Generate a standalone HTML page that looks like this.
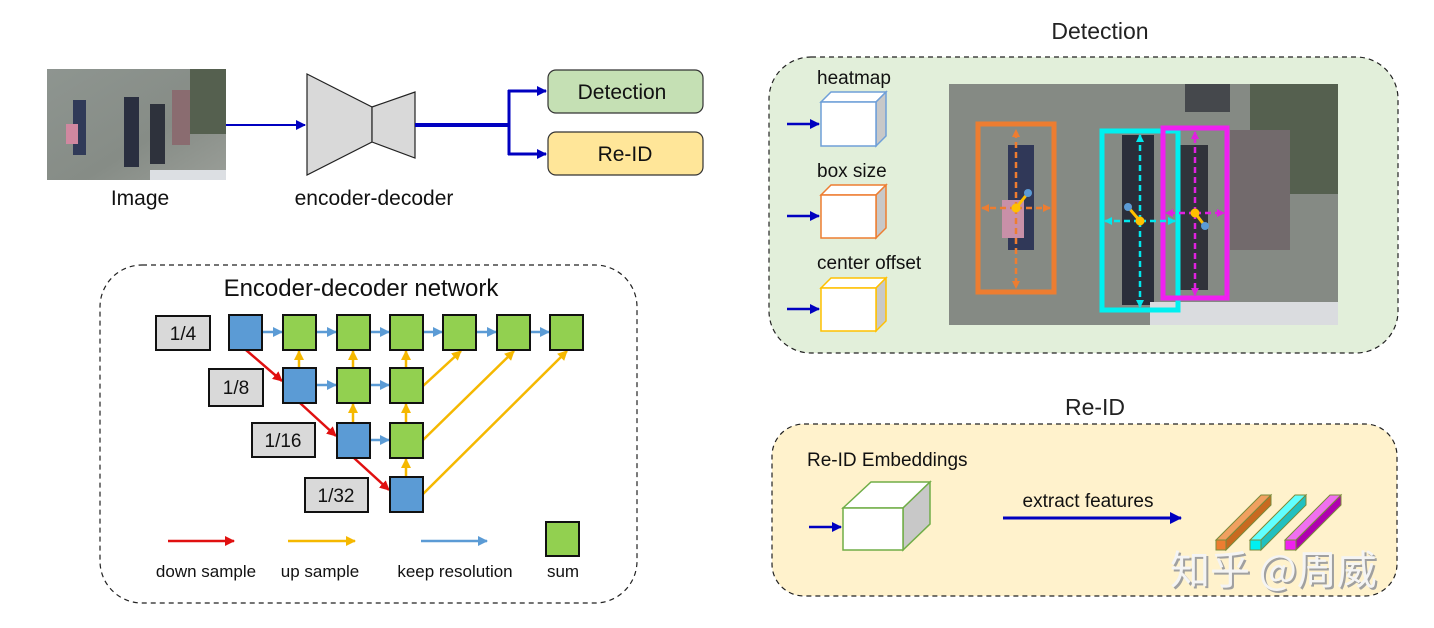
<!DOCTYPE html>
<html><head><meta charset="utf-8"><style>
html,body{margin:0;padding:0;background:#fff;}
svg{display:block;font-family:"Liberation Sans","Noto Sans CJK SC",sans-serif;}
</style></head><body>
<svg width="1434" height="628" viewBox="0 0 1434 628" xmlns="http://www.w3.org/2000/svg">
<defs>
<marker id="ab" markerWidth="10" markerHeight="10" refX="9" refY="5" orient="auto" markerUnits="userSpaceOnUse"><path d="M0,0 L10,5 L0,10 z" fill="#0000c0"/></marker>
<marker id="abig" markerWidth="12" markerHeight="12" refX="11" refY="6" orient="auto" markerUnits="userSpaceOnUse"><path d="M0,0 L12,6 L0,12 z" fill="#0000c0"/></marker>
<marker id="ar" markerWidth="10" markerHeight="10" refX="9" refY="5" orient="auto" markerUnits="userSpaceOnUse"><path d="M0,0 L10,5 L0,10 z" fill="#e01010"/></marker>
<marker id="ay" markerWidth="10" markerHeight="10" refX="9" refY="5" orient="auto" markerUnits="userSpaceOnUse"><path d="M0,0 L10,5 L0,10 z" fill="#f5b800"/></marker>
<marker id="al" markerWidth="10" markerHeight="10" refX="9" refY="5" orient="auto" markerUnits="userSpaceOnUse"><path d="M0,0 L10,5 L0,10 z" fill="#5b9bd5"/></marker>
<marker id="ao" markerWidth="8" markerHeight="8" refX="7" refY="4" orient="auto" markerUnits="userSpaceOnUse"><path d="M0,0 L8,4 L0,8 z" fill="#ed7d31"/></marker>
<marker id="ac" markerWidth="8" markerHeight="8" refX="7" refY="4" orient="auto" markerUnits="userSpaceOnUse"><path d="M0,0 L8,4 L0,8 z" fill="#00e8ee"/></marker>
<marker id="am" markerWidth="8" markerHeight="8" refX="7" refY="4" orient="auto" markerUnits="userSpaceOnUse"><path d="M0,0 L8,4 L0,8 z" fill="#e020e0"/></marker>
<linearGradient id="ph" x1="0" y1="0" x2="1" y2="1"><stop offset="0" stop-color="#8e9590"/><stop offset="0.6" stop-color="#868c86"/><stop offset="1" stop-color="#9a9e98"/></linearGradient>
</defs>

<!-- top photo -->
<rect x="47" y="69" width="179" height="111" fill="url(#ph)"/>
<rect x="190" y="69" width="36" height="65" fill="#55604f"/>
<rect x="172" y="90" width="18" height="55" fill="#8a6c70"/>
<rect x="73" y="100" width="13" height="55" fill="#303a58"/>
<rect x="124" y="97" width="15" height="70" fill="#2a2f40"/>
<rect x="150" y="104" width="15" height="60" fill="#2e323c"/>
<rect x="66" y="124" width="12" height="20" fill="#d088a0"/>
<rect x="150" y="170" width="76" height="10" fill="#dcdfe3"/>
<text x="140" y="205" font-size="21" text-anchor="middle" fill="#111">Image</text>

<line x1="226" y1="125" x2="305" y2="125" stroke="#0000c0" stroke-width="2" marker-end="url(#ab)"/>
<polygon points="307,74 372,107 372,142 307,175" fill="#d9d9d9" stroke="#222" stroke-width="1.2"/>
<polygon points="372,107 415,92 415,158 372,142" fill="#d9d9d9" stroke="#222" stroke-width="1.2"/>
<text x="374" y="205" font-size="21" text-anchor="middle" fill="#111">encoder-decoder</text>
<line x1="415" y1="125" x2="509" y2="125" stroke="#0000c0" stroke-width="4"/>
<polyline points="509,90 509,155" stroke="#0000c0" stroke-width="3" fill="none"/>
<line x1="508" y1="91" x2="546" y2="91" stroke="#0000c0" stroke-width="3" marker-end="url(#ab)"/>
<line x1="508" y1="154" x2="546" y2="154" stroke="#0000c0" stroke-width="3" marker-end="url(#ab)"/>
<rect x="548" y="70" width="155" height="43" rx="8" fill="#c5e0b4" stroke="#333" stroke-width="1.2"/>
<text x="622" y="99" font-size="21" text-anchor="middle" fill="#111">Detection</text>
<rect x="548" y="132" width="155" height="43" rx="8" fill="#ffe699" stroke="#333" stroke-width="1.2"/>
<text x="625" y="161" font-size="21" text-anchor="middle" fill="#111">Re-ID</text>

<!-- encoder-decoder network -->
<rect x="100" y="265" width="537" height="338" rx="42" fill="#fff" stroke="#222" stroke-width="1.2" stroke-dasharray="5,4"/>
<text x="361" y="296" font-size="24" text-anchor="middle" fill="#111">Encoder-decoder network</text>
<g font-size="19" text-anchor="middle" fill="#111">
<rect x="156" y="316" width="54" height="34" fill="#d9d9d9" stroke="#111" stroke-width="2"/><text x="183" y="340">1/4</text>
<rect x="209" y="369" width="54" height="37" fill="#d9d9d9" stroke="#111" stroke-width="2"/><text x="236" y="394">1/8</text>
<rect x="252" y="423" width="63" height="34" fill="#d9d9d9" stroke="#111" stroke-width="2"/><text x="283" y="447">1/16</text>
<rect x="305" y="478" width="63" height="34" fill="#d9d9d9" stroke="#111" stroke-width="2"/><text x="336" y="502">1/32</text>
</g>
<g stroke-width="2.5" fill="none">
<g stroke="#5b9bd5" marker-end="url(#al)">
<line x1="262" y1="332" x2="282" y2="332"/><line x1="316" y1="332" x2="336" y2="332"/><line x1="370" y1="332" x2="389" y2="332"/><line x1="423" y1="332" x2="442" y2="332"/><line x1="476" y1="332" x2="496" y2="332"/><line x1="530" y1="332" x2="549" y2="332"/>
<line x1="316" y1="385" x2="336" y2="385"/><line x1="370" y1="385" x2="389" y2="385"/>
<line x1="370" y1="440" x2="389" y2="440"/>
</g>
<g stroke="#f5b800" marker-end="url(#ay)">
<line x1="299" y1="368" x2="299" y2="351"/><line x1="353" y1="368" x2="353" y2="351"/><line x1="406" y1="368" x2="406" y2="351"/>
<line x1="353" y1="423" x2="353" y2="404"/><line x1="406" y1="423" x2="406" y2="404"/>
<line x1="406" y1="477" x2="406" y2="459"/>
<line x1="423" y1="386" x2="461" y2="351"/>
<line x1="423" y1="440" x2="514" y2="351"/>
<line x1="423" y1="494" x2="567" y2="351"/>
</g>
<g stroke="#e01010" marker-end="url(#ar)">
<line x1="246" y1="350" x2="282" y2="381"/><line x1="300" y1="403" x2="336" y2="436"/><line x1="354" y1="458" x2="389" y2="490"/>
</g>
</g>
<g stroke="#111" stroke-width="2">
<rect x="229" y="315" width="33" height="35" fill="#5b9bd5"/>
<rect x="283" y="315" width="33" height="35" fill="#92d050"/><rect x="337" y="315" width="33" height="35" fill="#92d050"/><rect x="390" y="315" width="33" height="35" fill="#92d050"/><rect x="443" y="315" width="33" height="35" fill="#92d050"/><rect x="497" y="315" width="33" height="35" fill="#92d050"/><rect x="550" y="315" width="33" height="35" fill="#92d050"/>
<rect x="283" y="368" width="33" height="35" fill="#5b9bd5"/><rect x="337" y="368" width="33" height="35" fill="#92d050"/><rect x="390" y="368" width="33" height="35" fill="#92d050"/>
<rect x="337" y="423" width="33" height="35" fill="#5b9bd5"/><rect x="390" y="423" width="33" height="35" fill="#92d050"/>
<rect x="390" y="477" width="33" height="35" fill="#5b9bd5"/>
<rect x="546" y="522" width="33" height="34" fill="#92d050"/>
</g>
<line x1="168" y1="541" x2="234" y2="541" stroke="#e01010" stroke-width="2.5" marker-end="url(#ar)"/>
<line x1="288" y1="541" x2="355" y2="541" stroke="#f5b800" stroke-width="2.5" marker-end="url(#ay)"/>
<line x1="421" y1="541" x2="487" y2="541" stroke="#5b9bd5" stroke-width="2.5" marker-end="url(#al)"/>
<g font-size="17" text-anchor="middle" fill="#111">
<text x="206" y="577">down sample</text><text x="320" y="577">up sample</text><text x="455" y="577">keep resolution</text><text x="563" y="577">sum</text>
</g>

<!-- Detection panel -->
<text x="1100" y="39" font-size="23" text-anchor="middle" fill="#222">Detection</text>
<rect x="769" y="57" width="629" height="296" rx="42" fill="#e2efda" stroke="#222" stroke-width="1.2" stroke-dasharray="5,4"/>
<g font-size="19" fill="#111">
<text x="817" y="84">heatmap</text><text x="817" y="177">box size</text><text x="817" y="269">center offset</text>
</g>
<g stroke-width="1.5">
<g stroke="#6f9fd8"><polygon points="821,102 831,92 886,92 876,102" fill="#fff"/><polygon points="876,102 886,92 886,136 876,146" fill="#c8c8c8"/><rect x="821" y="102" width="55" height="44" fill="#fff"/></g>
<g stroke="#ed7d31"><polygon points="821,195 831,185 886,185 876,195" fill="#fff"/><polygon points="876,195 886,185 886,228 876,238" fill="#c8c8c8"/><rect x="821" y="195" width="55" height="43" fill="#fff"/></g>
<g stroke="#ffc000"><polygon points="821,288 831,278 886,278 876,288" fill="#fff"/><polygon points="876,288 886,278 886,321 876,331" fill="#c8c8c8"/><rect x="821" y="288" width="55" height="43" fill="#fff"/></g>
</g>
<g stroke="#0000c0" stroke-width="2.5">
<line x1="787" y1="124" x2="819" y2="124" marker-end="url(#ab)"/><line x1="787" y1="216" x2="819" y2="216" marker-end="url(#ab)"/><line x1="787" y1="309" x2="819" y2="309" marker-end="url(#ab)"/>
</g>
<rect x="949" y="84" width="389" height="241" fill="#858a84"/>
<rect x="1250" y="84" width="88" height="110" fill="#55604f"/>
<rect x="1185" y="84" width="45" height="28" fill="#45484c"/>
<rect x="1008" y="145" width="26" height="105" fill="#303858"/>
<rect x="1002" y="200" width="22" height="38" fill="#c890a8"/>
<rect x="1122" y="135" width="32" height="170" fill="#2a2e3a"/>
<rect x="1180" y="145" width="28" height="145" fill="#30333a"/>
<rect x="1230" y="130" width="60" height="120" fill="#726a6c"/>
<rect x="1150" y="302" width="188" height="23" fill="#dadcdf"/>
<g fill="none">
<rect x="978" y="124" width="76" height="168" stroke="#ed7d31" stroke-width="5"/>
<rect x="1102" y="131" width="76" height="179" stroke="#00f0f0" stroke-width="5"/>
<rect x="1163" y="128" width="64" height="170" stroke="#f020f0" stroke-width="5"/>
<g stroke-width="2.5" stroke-dasharray="6,4">
<line x1="1016" y1="208" x2="1016" y2="130" stroke="#ed7d31" marker-end="url(#ao)"/><line x1="1016" y1="208" x2="1016" y2="288" stroke="#ed7d31" marker-end="url(#ao)"/>
<line x1="1016" y1="208" x2="982" y2="208" stroke="#ed7d31" marker-end="url(#ao)"/><line x1="1016" y1="208" x2="1050" y2="208" stroke="#ed7d31" marker-end="url(#ao)"/>
<line x1="1140" y1="221" x2="1140" y2="135" stroke="#00e8ee" marker-end="url(#ac)"/><line x1="1140" y1="221" x2="1140" y2="307" stroke="#00e8ee" marker-end="url(#ac)"/>
<line x1="1140" y1="221" x2="1105" y2="221" stroke="#00e8ee" marker-end="url(#ac)"/><line x1="1140" y1="221" x2="1175" y2="221" stroke="#00e8ee" marker-end="url(#ac)"/>
<line x1="1195" y1="213" x2="1195" y2="132" stroke="#e020e0" marker-end="url(#am)"/><line x1="1195" y1="213" x2="1195" y2="295" stroke="#e020e0" marker-end="url(#am)"/>
<line x1="1195" y1="213" x2="1166" y2="213" stroke="#e020e0" marker-end="url(#am)"/><line x1="1195" y1="213" x2="1224" y2="213" stroke="#e020e0" marker-end="url(#am)"/>
</g>
<g stroke="#ffc000" stroke-width="3"><line x1="1016" y1="208" x2="1028" y2="193"/><line x1="1140" y1="221" x2="1128" y2="207"/><line x1="1195" y1="213" x2="1205" y2="226"/></g>
</g>
<g fill="#ffc000"><circle cx="1016" cy="208" r="4.5"/><circle cx="1140" cy="221" r="4.5"/><circle cx="1195" cy="213" r="4.5"/></g>
<g fill="#5b9bd5"><circle cx="1028" cy="193" r="4"/><circle cx="1128" cy="207" r="4"/><circle cx="1205" cy="226" r="4"/></g>

<!-- Re-ID panel -->
<text x="1095" y="415" font-size="23" text-anchor="middle" fill="#222">Re-ID</text>
<rect x="772" y="424" width="625" height="172" rx="32" fill="#fff2cc" stroke="#222" stroke-width="1.2" stroke-dasharray="5,4"/>
<text x="807" y="466" font-size="19" fill="#111">Re-ID Embeddings</text>
<g stroke="#70ad47" stroke-width="1.5">
<polygon points="843,508 871,482 930,482 903,508" fill="#fff"/>
<polygon points="903,508 930,482 930,524 903,550" fill="#c8c8c8"/>
<rect x="843" y="508" width="60" height="42" fill="#fff"/>
</g>
<line x1="809" y1="527" x2="841" y2="527" stroke="#0000c0" stroke-width="2.5" marker-end="url(#ab)"/>
<text x="1088" y="507" font-size="19" text-anchor="middle" fill="#111">extract features</text>
<line x1="1003" y1="518" x2="1181" y2="518" stroke="#0000c0" stroke-width="3" marker-end="url(#abig)"/>
<g stroke="#7a8a3a" stroke-width="1">
<polygon points="1216,540 1261,495 1271,495 1226,540" fill="#f0a060"/><polygon points="1226,540 1271,495 1271,505 1226,550" fill="#c86a20"/><rect x="1216" y="540" width="10" height="10" fill="#ed7d31"/>
<polygon points="1250,540 1295,495 1306,495 1261,540" fill="#60ffff"/><polygon points="1261,540 1306,495 1306,505 1261,550" fill="#20c0c0"/><rect x="1250" y="540" width="11" height="10" fill="#00f0f0"/>
<polygon points="1285,540 1330,495 1341,495 1296,540" fill="#f070f0"/><polygon points="1296,540 1341,495 1341,505 1296,550" fill="#b000b0"/><rect x="1285" y="540" width="11" height="10" fill="#f020f0"/>
</g>
<text x="1172" y="586" font-size="40" fill="#a0a0a0" font-family="'Noto Sans CJK SC',sans-serif">知乎 @周威</text>
<text x="1170" y="584" font-size="40" fill="#f4f4f4" font-family="'Noto Sans CJK SC',sans-serif">知乎 @周威</text>
</svg>
</body></html>
